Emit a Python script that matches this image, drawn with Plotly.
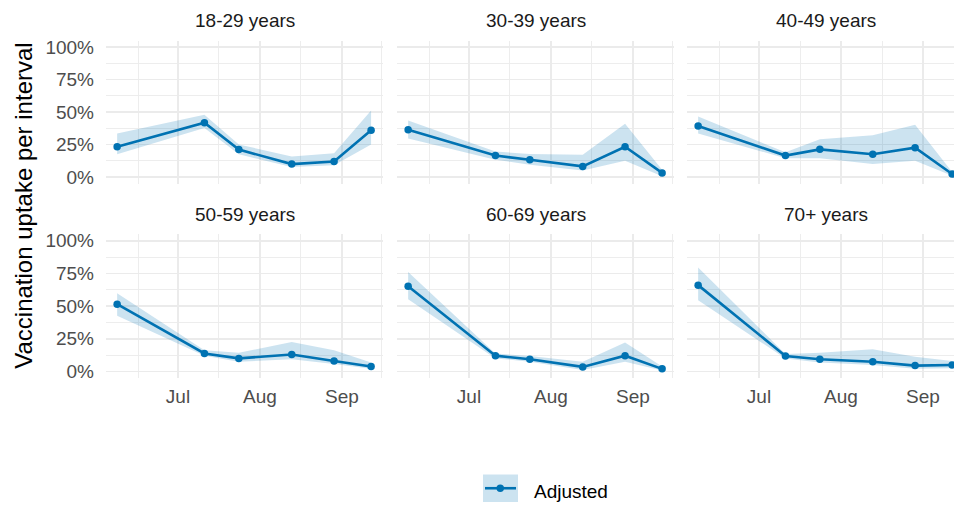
import plotly.graph_objects as go

# ---------------- data ----------------
dates = ["2021-06-08", "2021-07-11", "2021-07-24", "2021-08-13", "2021-08-29", "2021-09-12"]
panels = ["18-29 years", "30-39 years", "40-49 years", "50-59 years", "60-69 years", "70+ years"]

est_18_29 = [23.4, 41.8, 21.2, 10.1, 12.1, 36.0]
low_18_29 = [17.6, 37.8, 17.6, 7.8, 9.1, 25.2]
up_18_29 = [33.5, 47.9, 25.2, 15.9, 18.4, 51.2]

est_30_39 = [36.5, 16.6, 13.4, 8.3, 23.4, 3.3]
low_30_39 = [29.7, 13.4, 9.6, 5.1, 12.6, 0.8]
up_30_39 = [43.6, 19.7, 17.9, 17.2, 41.0, 5.8]

est_40_49 = [39.3, 16.6, 21.4, 17.6, 22.7, 2.5]
low_40_49 = [33.5, 14.6, 14.6, 10.1, 12.6, 1.2]
up_40_49 = [46.6, 19.1, 29.2, 32.2, 40.3, 4.0]

est_50_59 = [51.5, 13.8, 10.0, 13.0, 8.0, 3.8]
low_50_59 = [42.7, 12.1, 7.5, 9.3, 5.7, 2.0]
up_50_59 = [59.8, 16.3, 14.3, 22.6, 16.3, 6.8]

est_60_69 = [65.3, 12.1, 9.3, 3.5, 12.1, 2.0]
low_60_69 = [55.3, 10.0, 7.5, 1.2, 7.5, 0.8]
up_60_69 = [76.2, 13.8, 11.8, 7.5, 22.1, 3.8]

est_70p = [66.1, 11.8, 9.3, 7.5, 4.5, 5.0]
low_70p = [54.5, 10.0, 6.8, 5.0, 2.0, 2.5]
up_70p = [79.6, 13.3, 14.3, 17.0, 11.3, 8.0]

x_tickvals = ["2021-07-01", "2021-08-01", "2021-09-01"]
x_ticktext = ["Jul", "Aug", "Sep"]
x_minor = ["2021-06-16", "2021-07-16 12:00", "2021-08-16 12:00", "2021-09-16"]
y_tickvals = [0, 25, 50, 75, 100]
y_ticktext = ["0%", "25%", "50%", "75%", "100%"]
y_minor = [12.5, 37.5, 62.5, 87.5]

series = [
    (est_18_29, low_18_29, up_18_29),
    (est_30_39, low_30_39, up_30_39),
    (est_40_49, low_40_49, up_40_49),
    (est_50_59, low_50_59, up_50_59),
    (est_60_69, low_60_69, up_60_69),
    (est_70p, low_70p, up_70p),
]

# ---------------- layout geometry ----------------
W, H = 954, 507
LINE = "#0072B2"
FILL = "rgba(0,114,178,0.2)"
GRID = "#ebebeb"
FONT = "Liberation Sans, Arial, sans-serif"

def px(x):
    return x / W

def py(y):
    return 1 - y / H

col_px = [(106, 383), (397, 674), (687, 964)]
row_px = [(37.1, 182.6), (234.0, 380.0)]
x_range_full = ["2021-06-03 19:00", "2021-09-16 12:00"]
x_range_cut = ["2021-06-03 19:00", "2021-09-12 17:00"]

fig = go.Figure()
layout = dict(
    width=W, height=H,
    margin=dict(l=0, r=0, t=0, b=0),
    plot_bgcolor="white", paper_bgcolor="white",
    showlegend=False,
    font=dict(family=FONT, size=19, color="#4d4d4d"),
)
annotations = []
shapes = []

for i, (name, (est, low, up)) in enumerate(zip(panels, series)):
    r, c = divmod(i, 3)
    n = i + 1
    xa = "x" if n == 1 else f"x{n}"
    ya = "y" if n == 1 else f"y{n}"
    x0, x1 = col_px[c]
    y0, y1 = row_px[r]
    xdom = [px(x0), min(px(x1), 1.0)]
    ydom = [py(y1), py(y0)]
    xr = x_range_cut if c == 2 else x_range_full

    fig.add_trace(go.Scatter(
        x=dates + dates[::-1], y=up + low[::-1],
        fill="toself", fillcolor=FILL, line=dict(width=0),
        mode="lines", hoverinfo="skip", xaxis=xa, yaxis=ya,
    ))
    fig.add_trace(go.Scatter(
        x=dates, y=est, mode="lines+markers",
        line=dict(color=LINE, width=2.6),
        marker=dict(color=LINE, size=7.5),
        name="Adjusted", xaxis=xa, yaxis=ya,
    ))

    xkey = "xaxis" if n == 1 else f"xaxis{n}"
    ykey = "yaxis" if n == 1 else f"yaxis{n}"
    layout[xkey] = dict(
        domain=xdom, anchor=ya, type="date", range=xr,
        tickmode="array", tickvals=x_tickvals, ticktext=x_ticktext,
        showticklabels=(r == 1), ticks="", ticklabelstandoff=5,
        tickfont=dict(size=19, color="#4d4d4d"),
        showgrid=True, gridcolor=GRID, gridwidth=1.6,
        minor=dict(tickmode="array", tickvals=x_minor, showgrid=True,
                   gridcolor=GRID, gridwidth=0.9, ticks=""),
        zeroline=False, showline=False, fixedrange=True,
    )
    layout[ykey] = dict(
        domain=ydom, anchor=xa, range=[-5, 105],
        tickmode="array", tickvals=y_tickvals, ticktext=y_ticktext,
        showticklabels=(c == 0), ticks="", ticklabelstandoff=11,
        tickfont=dict(size=19, color="#4d4d4d"),
        showgrid=True, gridcolor=GRID, gridwidth=1.6,
        minor=dict(tickmode="array", tickvals=y_minor, showgrid=True,
                   gridcolor=GRID, gridwidth=0.9, ticks=""),
        zeroline=False, showline=False, fixedrange=True,
    )
    # panel title
    annotations.append(dict(
        text=name, x=px((x0 + x1) / 2), y=py(y0 - 20),
        xref="paper", yref="paper", xanchor="center", yanchor="middle",
        showarrow=False, font=dict(family=FONT, size=19, color="#1a1a1a"),
    ))

# y-axis title
annotations.append(dict(
    text="Vaccination uptake per interval", x=px(24), y=py(205),
    xref="paper", yref="paper", xanchor="center", yanchor="middle",
    textangle=-90, showarrow=False,
    font=dict(family=FONT, size=24, color="black"),
))

# legend (manual key)
shapes.append(dict(type="rect", xref="paper", yref="paper",
                   x0=px(483), x1=px(518), y0=py(506), y1=py(478),
                   fillcolor=FILL, line=dict(width=0)))
shapes.append(dict(type="line", xref="paper", yref="paper",
                   x0=px(485), x1=px(516), y0=py(492), y1=py(492),
                   line=dict(color=LINE, width=2.6)))
shapes.append(dict(type="circle", xref="paper", yref="paper",
                   x0=px(496.5), x1=px(504), y0=py(495.75), y1=py(488.25),
                   fillcolor=LINE, line=dict(width=0)))
annotations.append(dict(
    text="Adjusted", x=px(532), y=py(495),
    xref="paper", yref="paper", xanchor="left", yanchor="middle",
    showarrow=False, font=dict(family=FONT, size=19, color="black"),
))

layout["annotations"] = annotations
layout["shapes"] = shapes
fig.update_layout(**layout)
fig.write_html(
    "out.html",
    config={"displayModeBar": False, "staticPlot": True},
    post_script="document.body.style.margin='0';document.body.style.overflow='hidden';",
)
